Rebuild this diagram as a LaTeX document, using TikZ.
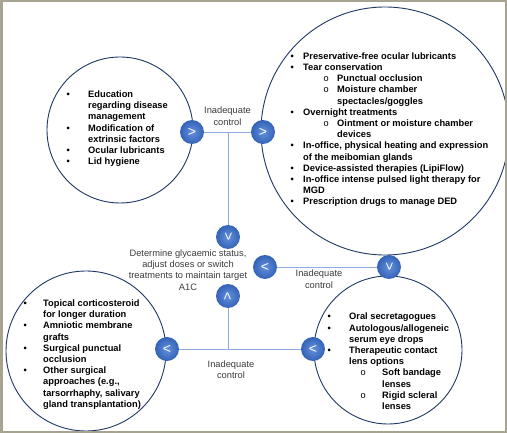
\documentclass[tikz,border=0pt]{standalone}
\usepackage{fontspec}
\setmainfont{Liberation Sans}
\newfontfamily\monofont{Liberation Mono}
\definecolor{navy}{RGB}{31,56,100}
\definecolor{linkblue}{RGB}{143,170,220}
\definecolor{framegray}{RGB}{166,164,145}
\definecolor{labelgray}{RGB}{60,60,60}
\definecolor{btnin}{RGB}{100,145,220}
\definecolor{btnout}{RGB}{52,98,182}
\newlength\bw \newlength\so \newlength\sw
\newcommand\Bi[1]{\makebox[\bw][l]{\textbullet}#1}
\newcommand\Ci[1]{\hspace*{\bw}#1}
\newcommand\Si[1]{\hspace*{\bw}\makebox[\sw][l]{\hspace*{\so}{\monofont\mdseries o}}#1}
\newcommand\Sc[1]{\hspace*{\bw}\hspace*{\sw}#1}
\tikzset{
  x=1pt,y=-1pt,
  bigcirc/.style={circle,draw=navy,line width=0.9pt,inner sep=0pt},
  listtxt/.style={inner sep=0pt,anchor=base west,font=\fontsize{9.3}{11.2}\selectfont\bfseries},
  lbl/.style={inner sep=0pt,anchor=base,text=labelgray},
  btn/.style={circle,minimum size=24pt,inner sep=0pt,inner color=btnin,outer color=btnout,
    text=white,font=\fontsize{14}{14}\selectfont},
  link/.style={draw=linkblue,line width=0.9pt}
}
\begin{document}
\begin{tikzpicture}
\useasboundingbox (0,0) rectangle (507,433);
\fill[white] (0,0) rectangle (507,433);
% big circles
\node[bigcirc,minimum size=146pt] (cA) at (120,130) {};
\node[bigcirc,minimum size=248pt] (cB) at (385,131) {};
\node[bigcirc,minimum size=148pt] (cC) at (388,350) {};
\node[bigcirc,minimum size=160pt] (cD) at (86,351) {};
% texts in circles
\node[listtxt] (tA) at (66.4,97.6) {\setlength\bw{21.6pt}%
\begin{tabular}[t]{@{}l@{}}
\Bi{Education}\\
\Ci{regarding disease}\\
\Ci{management}\\
\Bi{Modification of}\\
\Ci{extrinsic factors}\\
\Bi{Ocular lubricants}\\
\Bi{Lid hygiene}
\end{tabular}};
\node[listtxt] (tB) at (290.4,59.3) {\setlength\bw{12.6pt}\setlength\so{20.2pt}\setlength\sw{34pt}%
\begin{tabular}[t]{@{}l@{}}
\Bi{Preservative-free ocular lubricants}\\
\Bi{Tear conservation}\\
\Si{Punctual occlusion}\\
\Si{Moisture chamber}\\
\Sc{spectacles/goggles}\\
\Bi{Overnight treatments}\\
\Si{Ointment or moisture chamber}\\
\Sc{devices}\\
\Bi{In-office, physical heating and expression}\\
\Ci{of the meibomian glands}\\
\Bi{Device-assisted therapies (LipiFlow)}\\
\Bi{In-office intense pulsed light therapy for}\\
\Ci{MGD}\\
\Bi{Prescription drugs to manage DED}
\end{tabular}};
\node[listtxt] (tC) at (327.4,320) {\setlength\bw{21.6pt}\setlength\so{11.2pt}\setlength\sw{33pt}%
\begin{tabular}[t]{@{}l@{}}
\Bi{Oral secretagogues}\\
\Bi{Autologous/allogeneic}\\
\Ci{serum eye drops}\\
\Bi{Therapeutic contact}\\
\Ci{lens options}\\
\Si{Soft bandage}\\
\Sc{lenses}\\
\Si{Rigid scleral}\\
\Sc{lenses}
\end{tabular}};
\node[listtxt] (tD) at (23.4,306.6) {\setlength\bw{19.6pt}%
\begin{tabular}[t]{@{}l@{}}
\Bi{Topical corticosteroid}\\
\Ci{for longer duration}\\
\Bi{Amniotic membrane}\\
\Ci{grafts}\\
\Bi{Surgical punctual}\\
\Ci{occlusion}\\
\Bi{Other surgical}\\
\Ci{approaches (e.g.,}\\
\Ci{tarsorrhaphy, salivary}\\
\Ci{gland transplantation)}
\end{tabular}};
% labels
\node[lbl,font=\fontsize{9.3}{12.7}\selectfont] (l1) at (227.5,113.3) {\begin{tabular}[t]{@{}c@{}}Inadequate\\control\end{tabular}};
\node[lbl,font=\fontsize{9.3}{12.7}\selectfont] (l2) at (319,276.3) {\begin{tabular}[t]{@{}c@{}}Inadequate\\control\end{tabular}};
\node[lbl,font=\fontsize{9.3}{11.5}\selectfont] (l3) at (231,367.3) {\begin{tabular}[t]{@{}c@{}}Inadequate\\control\end{tabular}};
\node[lbl,font=\fontsize{9.3}{11.2}\selectfont] (mid) at (188,256.5) {\begin{tabular}[t]{@{}c@{}}Determine glycaemic status,\\adjust doses or switch\\treatments to maintain target\\A1C\end{tabular}};
% buttons positions
\coordinate (pA) at (192,132);
\coordinate (pB) at (263,132);
\coordinate (pTop) at (228,237);
\coordinate (pBot) at (228,296);
\coordinate (pR) at (265,267);
\coordinate (pBv) at (389,267);
\coordinate (pD) at (167,349);
\coordinate (pC) at (313,349);
% connectors
\draw[link] (pA) -- (pB);
\draw[link] (pTop) -- (pTop |- pA);
\draw[link] (pR) -- (pBv);
\draw[link] (pD) -- (pC);
\draw[link] (pBot) -- (pBot |- pD);
% buttons
\node[btn] (bA) at (pA) {>};
\node[btn] (bB) at (pB) {>};
\node[btn,rotate=-90] (bTop) at (pTop) {>};
\node[btn,rotate=90] (bBot) at (pBot) {>};
\node[btn] (bR) at (pR) {<};
\node[btn,rotate=-90] (bBv) at (pBv) {>};
\node[btn] (bD) at (pD) {<};
\node[btn] (bC) at (pC) {<};
% frame
\draw[framegray,line width=2.5pt] (1.25,1.25) rectangle (505.75,431.75);
\end{tikzpicture}
\end{document}
